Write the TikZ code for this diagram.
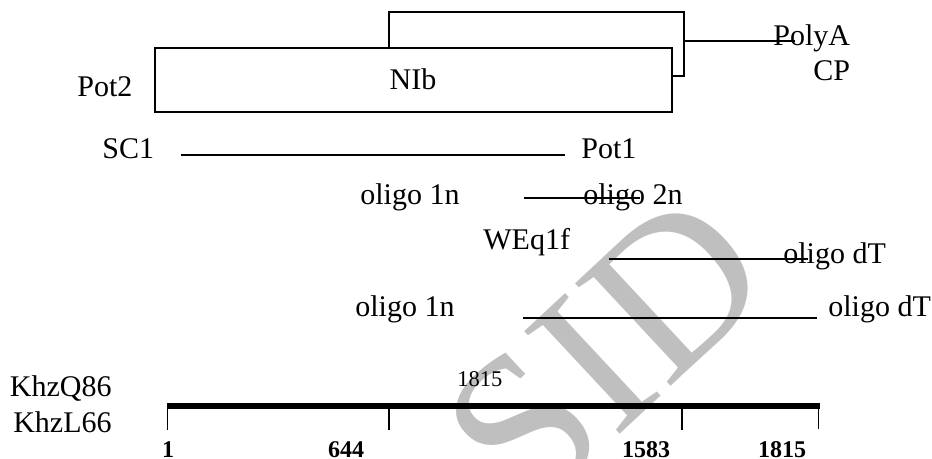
\documentclass[tikz,border=0pt]{standalone}
\usepackage{fontspec}
\setmainfont{Liberation Serif}
\begin{document}
\begin{tikzpicture}[x=0.5pt,y=-0.5pt,
  lbl/.style={inner sep=0pt,anchor=base west,font=\fontsize{15pt}{18pt}\selectfont},
  num/.style={inner sep=0pt,anchor=base,font=\fontsize{12pt}{14pt}\selectfont\bfseries},
  seg/.style={line width=0.8pt},
  tick/.style={line width=0.6pt},
  boxstyle/.style={draw,line width=0.75pt,fill=white}]
\useasboundingbox (0,0) rectangle (932,459);
% watermark
\node[text=black!25,rotate=43,inner sep=0pt,font=\fontsize{107pt}{112pt}\selectfont] (wm) at (606,352) {SID};
% boxes
\draw[boxstyle] (389,12) rectangle (684,76);
\coordinate (cpR) at (684,41);
\coordinate (cpE) at (795,41);
\draw[seg] (cpR) -- (cpE);
\node[lbl] (polya) at (773,46) {PolyA};
\node[lbl] (cp) at (813,81) {CP};
\node[boxstyle,minimum width=258.5pt,minimum height=32pt,inner sep=0pt] (nib) at (413.5,80) {};
\node[lbl,anchor=base] (nibt) at (413,90) {NIb};
\node[lbl] (pot2) at (77,97) {Pot2};
% SC1 - Pot1
\node[lbl] (sc1) at (102,159) {SC1};
\node[lbl] (pot1) at (581,159) {Pot1};
\coordinate (a1) at (181,155); \coordinate (a2) at (565,155);
\draw[seg] (a1) -- (a2);
% oligo 1n - oligo 2n
\node[lbl] (o1n) at (360,205) {oligo 1n};
\node[lbl] (o2n) at (583,205) {oligo 2n};
\coordinate (b1) at (524,198); \coordinate (b2) at (640,198);
\draw[seg] (b1) -- (b2);
% WEq1f - oligo dT
\node[lbl] (weq) at (483,250) {WEq1f};
\node[lbl] (odt1) at (783,264) {oligo dT};
\coordinate (c1) at (609,259); \coordinate (c2) at (808,259);
\draw[seg] (c1) -- (c2);
% oligo 1n - oligo dT
\node[lbl] (o1nb) at (355,317) {oligo 1n};
\node[lbl] (odt2) at (828,317) {oligo dT};
\coordinate (d1) at (523,318); \coordinate (d2) at (817,318);
\draw[seg] (d1) -- (d2);
% map
\node[lbl,anchor=base east] (q86) at (112,397) {KhzQ86};
\node[lbl,anchor=base east] (l66) at (112,433) {KhzL66};
\node[inner sep=0pt,anchor=base west,font=\fontsize{11.25pt}{13pt}\selectfont] (top1815) at (457,387) {1815};
\coordinate (m1) at (167,406); \coordinate (m4) at (820,406);
\draw[line width=2.6pt] (m1) -- (m4);
\coordinate (t1) at (167.5,406); \coordinate (t1b) at (167.5,430);
\coordinate (t2) at (389,406); \coordinate (t2b) at (389,430);
\coordinate (t3) at (682,406); \coordinate (t3b) at (682,430);
\coordinate (t4) at (818.5,406); \coordinate (t4b) at (818.5,429);
\draw[tick] (t1) -- (t1b) (t2) -- (t2b) (t3) -- (t3b) (t4) -- (t4b);
\node[num] (n1) at (168,458) {1};
\node[num] (n644) at (346,458) {644};
\node[num] (n1583) at (646,458) {1583};
\node[num] (n1815) at (782,458) {1815};
\end{tikzpicture}
\end{document}
